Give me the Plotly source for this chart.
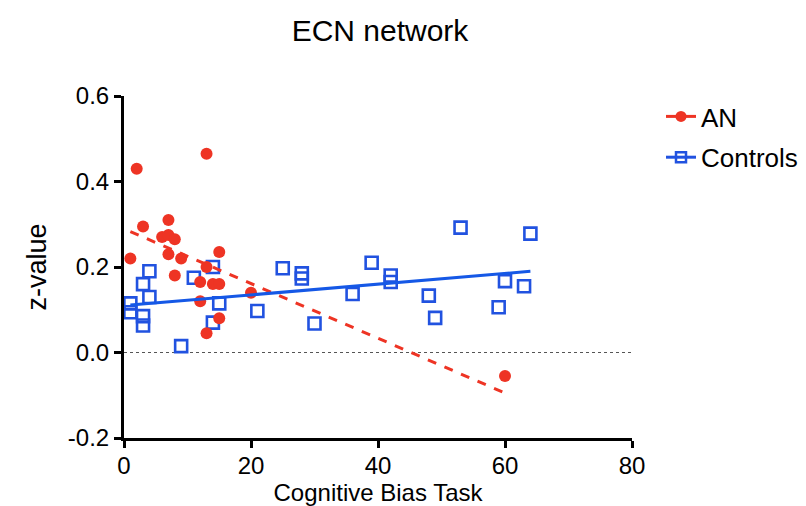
import numpy as np
import plotly.graph_objects as go

# AN group
an_x = [1, 2, 3, 6, 7, 7, 8, 7, 9, 8, 12, 12, 13, 13, 13, 14, 15, 15, 15, 20, 60]
an_y = [0.22, 0.43, 0.295, 0.27, 0.31, 0.275, 0.265, 0.23, 0.22, 0.18, 0.165, 0.12,
        0.2, 0.465, 0.045, 0.16, 0.16, 0.235, 0.08, 0.14, -0.055]

# Controls group
ctl_x = [1, 1, 3, 3, 3, 4, 4, 9, 11, 14, 14, 15, 21, 25, 28, 28, 30, 36, 39, 42, 42,
         48, 49, 53, 59, 60, 63, 64]
ctl_y = [0.115, 0.094, 0.16, 0.085, 0.063, 0.19, 0.13, 0.015, 0.175, 0.2, 0.07, 0.115,
         0.097, 0.197, 0.185, 0.173, 0.068, 0.137, 0.21, 0.18, 0.165, 0.133, 0.081,
         0.292, 0.106, 0.167, 0.155, 0.278]

x_ticks = [0, 20, 40, 60, 80]
y_ticks = [-0.2, 0.0, 0.2, 0.4, 0.6]
y_ticktext = ["-0.2", "0.0", "0.2", "0.4", "0.6"]

RED = "#EE3424"
BLUE = "#2152E0"
BLUE_LINE = "#1558E6"

W, H = 806, 498  # page body has an 8px margin


def fit_line(xs, ys):
    xs = np.asarray(xs, float)
    ys = np.asarray(ys, float)
    m, b = np.polyfit(xs, ys, 1)
    lx = np.array([xs.min(), xs.max()])
    return lx, m * lx + b


fig = go.Figure()

an_lx, an_ly = fit_line(an_x, an_y)
ctl_lx, ctl_ly = fit_line(ctl_x, ctl_y)

fig.add_trace(go.Scatter(x=ctl_x, y=ctl_y, mode="markers", showlegend=False,
                         marker=dict(symbol="square-open", size=12, color=BLUE,
                                     line=dict(width=2.6, color=BLUE))))
fig.add_trace(go.Scatter(x=an_x, y=an_y, mode="markers", showlegend=False,
                         marker=dict(symbol="circle", size=12, color=RED)))
fig.add_trace(go.Scatter(x=an_lx, y=an_ly, mode="lines", showlegend=False,
                         line=dict(color=RED, width=3, dash="dash")))
fig.add_trace(go.Scatter(x=ctl_lx, y=ctl_ly, mode="lines", showlegend=False,
                         line=dict(color=BLUE_LINE, width=3)))

# legend entries
fig.add_trace(go.Scatter(x=[None], y=[None], mode="lines+markers", name="AN",
                         legendgroup="an",
                         line=dict(color=RED, width=3),
                         marker=dict(symbol="circle", size=11, color=RED)))
fig.add_trace(go.Scatter(x=[None], y=[None], mode="lines+markers", name="Controls",
                         legendgroup="ctl",
                         line=dict(color=BLUE, width=3),
                         marker=dict(symbol="square-open", size=10, color=BLUE,
                                     line=dict(width=2.5, color=BLUE))))

fig.add_shape(type="line", xref="paper", yref="y", x0=0, x1=1, y0=0, y1=0,
              line=dict(color="#555555", width=1, dash="dot"), layer="below")

FONT = "Liberation Sans, Arial, sans-serif"

fig.update_layout(
    width=W, height=H,
    margin=dict(l=116, r=W - 116 - 508, t=88, b=68, autoexpand=False),
    paper_bgcolor="white", plot_bgcolor="white",
    font=dict(family=FONT, color="black", size=24),
    title=dict(text="ECN network", x=372 / W, xanchor="center",
               y=1 - 22 / H, yanchor="middle",
               font=dict(size=30, family=FONT, color="black")),
    legend=dict(x=(661 - 8 - 116) / 508, xanchor="left", y=1 + 3 / 342, yanchor="top",
                xref="paper", yref="paper",
                font=dict(size=26, family=FONT, color="black"),
                bgcolor="rgba(0,0,0,0)", itemwidth=30, tracegroupgap=4),
    xaxis=dict(range=[0, 80], tickvals=x_ticks, ticktext=[str(t) for t in x_ticks],
               automargin=False, ticklabelstandoff=-3,
               showgrid=False, zeroline=False, showline=True, linecolor="black",
               linewidth=3, ticks="outside", ticklen=7, tickwidth=3, tickcolor="black",
               tickfont=dict(size=24), title=dict(text="Cognitive Bias Task",
                                                  font=dict(size=24), standoff=11)),
    yaxis=dict(range=[-0.2, 0.6], tickvals=y_ticks, ticktext=y_ticktext,
               automargin=False,
               showgrid=False, zeroline=False, showline=True, linecolor="black",
               linewidth=3, ticks="outside", ticklen=7, tickwidth=3, tickcolor="black",
               tickfont=dict(size=24), title=dict(text="z-value", font=dict(size=27),
                                                  standoff=14)),
)

fig.write_html("out.html")
